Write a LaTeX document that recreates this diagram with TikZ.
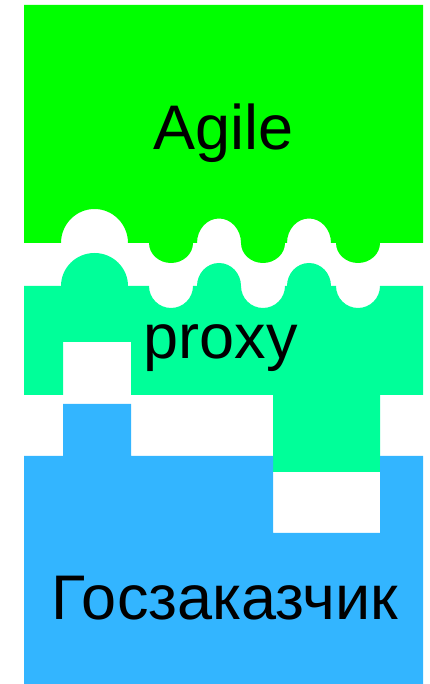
\documentclass[tikz,border=0pt]{standalone}
\usepackage{fontspec}
\setmainfont{Liberation Sans}
\definecolor{agilegreen}{RGB}{0,255,0}
\definecolor{proxyteal}{RGB}{0,255,153}
\definecolor{clientblue}{RGB}{51,181,255}
\tikzset{
  block/.style={fill=#1, draw=none},
  label/.style={anchor=base, inner sep=0pt, font=\fontsize{63}{70}\selectfont, text=black},
  dn/.style={start angle=0, end angle=-180, x radius=22pt, y radius=#1},
  up/.style={start angle=0, end angle=180, x radius=22pt, y radius=#1},
  big/.style={start angle=0, end angle=180, x radius=33.5pt, y radius=#1}
}
\begin{document}
\begin{tikzpicture}[x=1pt,y=1pt]
\useasboundingbox (0,0) rectangle (429,684);
% Agile block
\path[block=agilegreen] (24,679) -- (423,679) -- (423,441) -- (380,441)
  arc[dn=20pt] -- (331,441) arc[up=24.5pt] -- (285,441) arc[dn=20pt]
  arc[up=24.5pt] -- (193,441) arc[dn=20pt] -- (128,441) arc[big=34pt]
  -- (24,441) -- cycle;
% proxy block
\path[block=proxyteal] (24,289) -- (63,289) -- (63,342) -- (131,342) -- (131,289)
  -- (273,289) -- (273,212) -- (380,212) -- (380,289) -- (423,289) -- (423,398)
  -- (380,398) arc[dn=22pt] -- (331,398) arc[up=23pt] -- (285,398) arc[dn=22pt]
  arc[up=23pt] -- (193,398) arc[dn=22pt] -- (128,398) arc[big=33pt]
  -- (24,398) -- cycle;
% customer block
\path[block=clientblue] (24,0) -- (423,0) -- (423,228) -- (380,228) -- (380,151)
  -- (273,151) -- (273,228) -- (131,228) -- (131,280) -- (63,280) -- (63,228)
  -- (24,228) -- cycle;
\node[label] (agile) at (223.5,534) {Agile};
\node[label] (proxy) at (220.5,325.5) {proxy};
\node[label] (client) at (225,64) {Госзаказчик};
\end{tikzpicture}
\end{document}
